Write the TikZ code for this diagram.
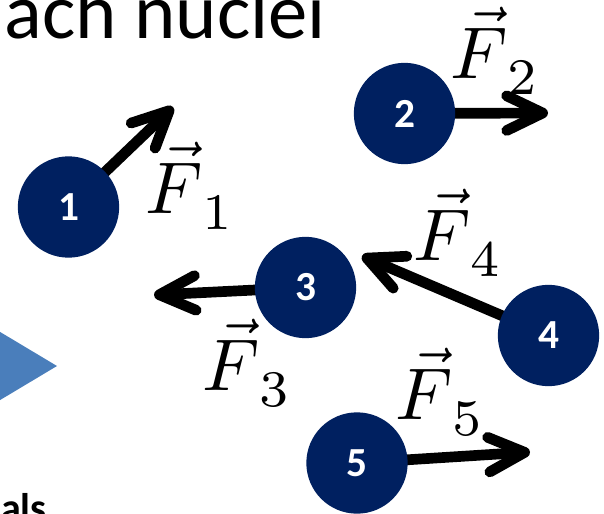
\documentclass[tikz,border=0pt]{standalone}
\usepackage{amsmath}
\usepackage{graphicx}
\usepackage{fontspec}
\newfontfamily\slidefont{Carlito}
\usepackage{tikz}
\usetikzlibrary{arrows.meta}

\definecolor{nucleus}{HTML}{002060}
\definecolor{pointer}{HTML}{4A7EBB}

\newcommand{\Fvec}[1]{\scalebox{5.5}{$\vec{F}_{\raisebox{-0.8pt}{$\scriptstyle\,#1$}}$}}

\begin{document}
\begin{tikzpicture}[
    x=0.75pt, y=-0.75pt,
    force/.style={-{Straight Barb[length=27pt, width=26pt, round]}, line width=8pt},
    ball/.style={circle, fill=nucleus, minimum size=76pt, inner sep=0pt,
        text=white, font=\slidefont\bfseries\fontsize{31}{31}\selectfont},
    flabel/.style={anchor=base west, inner sep=0pt, font=\fontsize{10}{12}\selectfont}
]

% Page frame (the slide is cut off on every side)
\useasboundingbox (0,0) rectangle (604,514);
\clip (0,0) rectangle (604,514);

% Slide leftovers
\fill[pointer] (-40,308) -- (57,366) -- (-40,424) -- cycle;
\node[anchor=base east, inner sep=0pt, font=\slidefont\fontsize{59}{60}\selectfont] (title) at (326,38) {ach nuclei};
\node[anchor=base east, inner sep=0pt, font=\slidefont\bfseries\fontsize{30}{30}\selectfont] (cue) at (47,521) {als};

% Nucleus centres and force tips
\coordinate (c1) at (68.5,207);
\coordinate (c2) at (404.5,113.5);
\coordinate (c3) at (305.5,287.5);
\coordinate (c4) at (548.5,335.5);
\coordinate (c5) at (357,463);
\coordinate (t1) at (173,107);
\coordinate (t2) at (548,113);
\coordinate (t3) at (154,295);
\coordinate (t4) at (362,256);
\coordinate (t5) at (530,452);

% Forces (drawn first, the nuclei sit on top)
\draw[force] (c1) -- (t1);
\draw[force] (c2) -- (t2);
\draw[force] (c3) -- (t3);
\draw[force] (c4) -- (t4);
\draw[force] (c5) -- (t5);

% Nuclei
\node[ball] (n1) at (c1) {1};
\node[ball] (n2) at (c2) {2};
\node[ball] (n3) at (c3) {3};
\node[ball] (n4) at (c4) {4};
\node[ball] (n5) at (c5) {5};

% Force labels
\node[flabel] (f1) at (145,213) {\Fvec{1}};
\node[flabel] (f2) at (450,78) {\Fvec{2}};
\node[flabel] (f3) at (202,390) {\Fvec{3}};
\node[flabel] (f4) at (413,260) {\Fvec{4}};
\node[flabel] (f5) at (395,419) {\Fvec{5}};

\end{tikzpicture}
\end{document}
